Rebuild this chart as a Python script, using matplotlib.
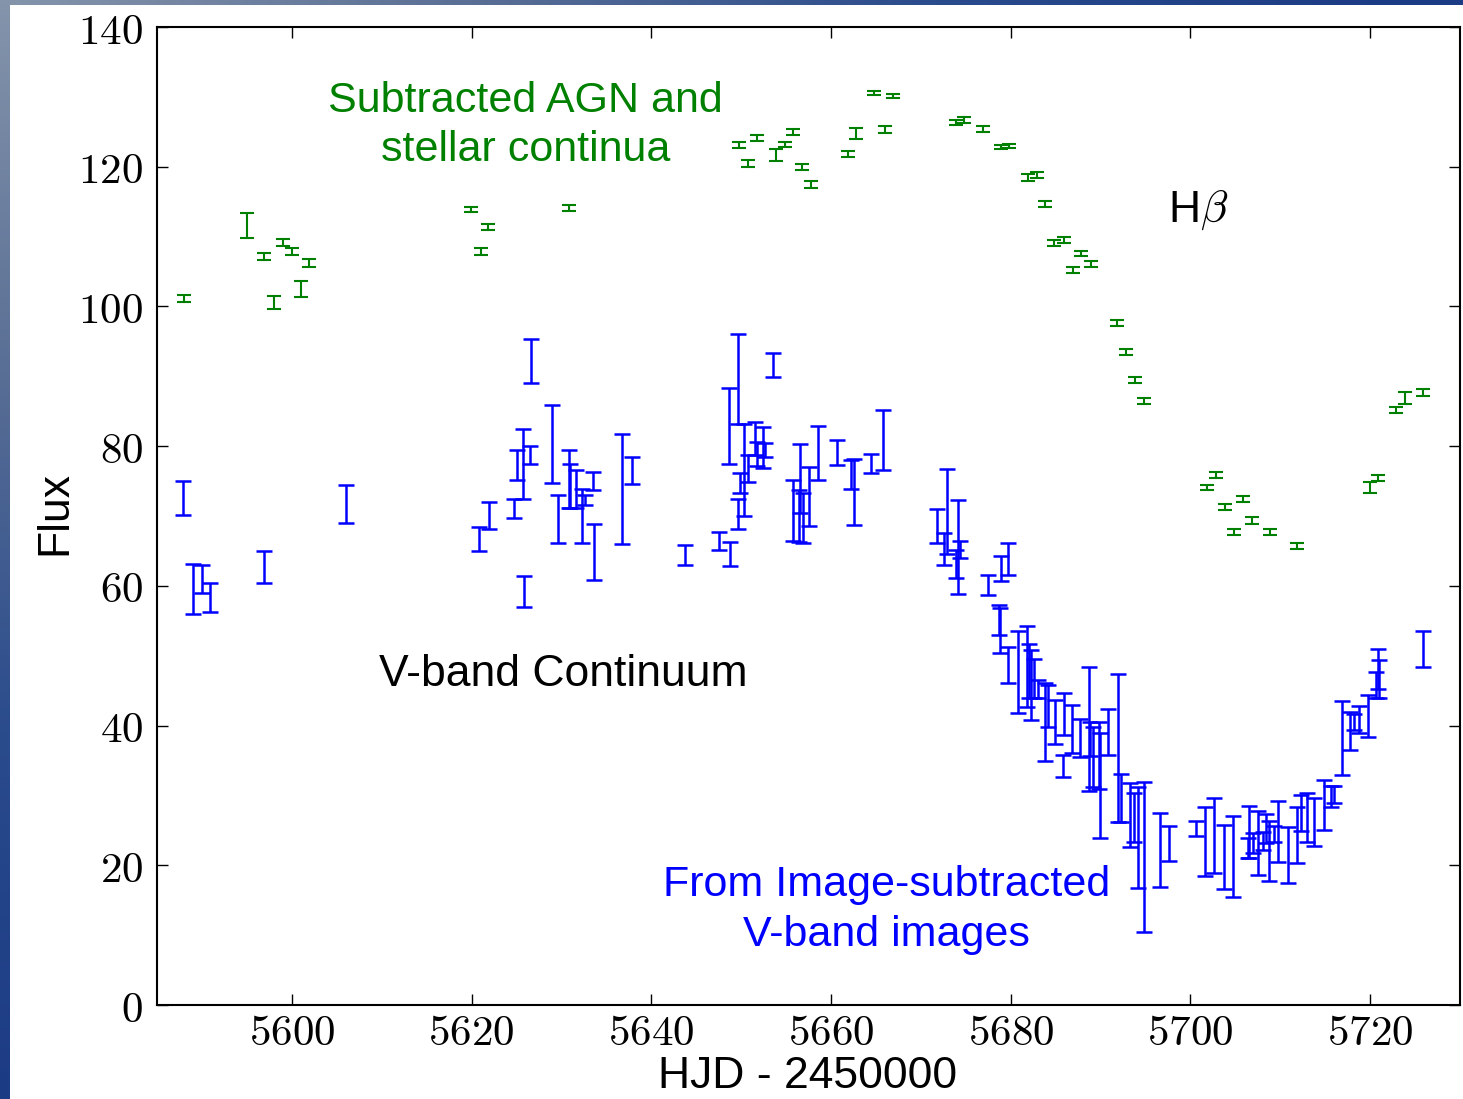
import numpy as np
import matplotlib
matplotlib.use("Agg")
import matplotlib.pyplot as plt
from matplotlib.colors import LinearSegmentedColormap
from matplotlib.patches import Rectangle
from matplotlib.ticker import FuncFormatter

# H-beta light curve (green)
hb_x = [5588.0, 5595.0, 5596.9, 5598.0, 5599.0, 5600.0, 5601.0, 5601.9,
        5619.9, 5621.0, 5621.8, 5630.8,
        5649.8, 5650.8, 5651.8, 5653.9, 5654.9, 5655.8, 5656.8, 5657.8,
        5661.9, 5662.8, 5664.8, 5666.0, 5666.9,
        5673.9, 5674.8, 5676.9, 5678.9, 5679.8, 5681.9, 5682.9, 5683.8,
        5684.8, 5685.9, 5686.9, 5687.8, 5688.9,
        5691.8, 5692.8, 5693.8, 5694.8,
        5701.9, 5702.9, 5703.8, 5704.8, 5705.8, 5706.9, 5708.9, 5711.9,
        5720.0, 5720.9, 5722.9, 5723.9, 5725.9]
hb_y = [101.1, 111.6, 107.2, 100.6, 109.1, 107.8, 102.5, 106.2,
        113.9, 107.8, 111.4, 114.1,
        123.1, 120.5, 124.1, 121.7, 123.2, 125.0, 120.0, 117.5,
        121.8, 124.8, 130.5, 125.3, 130.1,
        126.3, 126.7, 125.4, 122.8, 123.0, 118.5, 118.8, 114.7,
        109.1, 109.5, 105.2, 107.6, 106.1,
        97.6, 93.5, 89.5, 86.5,
        74.1, 75.9, 71.3, 67.7, 72.4, 69.3, 67.7, 65.7,
        74.1, 75.4, 85.2, 86.9, 87.7]
hb_err = [0.5, 1.8, 0.5, 0.9, 0.5, 0.5, 1.1, 0.6,
          0.4, 0.5, 0.4, 0.4,
          0.4, 0.5, 0.4, 0.85, 0.4, 0.4, 0.4, 0.5,
          0.4, 0.8, 0.3, 0.5, 0.3,
          0.4, 0.4, 0.4, 0.3, 0.3, 0.5, 0.4, 0.4,
          0.4, 0.4, 0.4, 0.4, 0.4,
          0.4, 0.4, 0.4, 0.4,
          0.4, 0.4, 0.4, 0.4, 0.4, 0.5, 0.4, 0.4,
          0.8, 0.4, 0.4, 0.8, 0.5]

# V-band continuum (blue)
v_x = [5587.9, 5589.0, 5590.0, 5590.9, 5596.9, 5606.0,
       5620.8, 5621.9, 5624.7, 5625.1, 5625.7, 5625.8, 5626.5, 5626.6,
       5629.0, 5629.6, 5630.8, 5631.0, 5631.6, 5632.3, 5632.6, 5633.5,
       5633.6, 5636.7, 5637.9, 5643.8, 5647.5, 5648.6, 5648.8, 5649.6,
       5649.7, 5649.9, 5650.3, 5650.8, 5651.6, 5651.8, 5652.4, 5652.7,
       5653.6, 5655.8, 5656.4, 5656.6, 5656.9, 5657.6, 5658.6, 5660.7,
       5662.2, 5662.6, 5664.5, 5665.8, 5671.8, 5672.6, 5672.9, 5673.9,
       5674.1, 5674.4, 5677.5, 5678.7, 5678.8, 5678.9, 5679.7, 5679.7,
       5680.8, 5681.8, 5682.0, 5682.3, 5682.6, 5683.0, 5683.8, 5684.1,
       5684.9, 5685.8, 5685.9, 5686.8, 5687.7, 5688.7, 5688.8, 5689.2,
       5689.8, 5689.9, 5690.8, 5691.9, 5692.3, 5693.3, 5693.7, 5694.2,
       5694.8, 5696.6, 5697.6, 5700.6, 5701.6, 5702.6, 5703.7, 5704.7,
       5706.4, 5706.5, 5707.0, 5707.5, 5708.1, 5708.4, 5708.7, 5709.3,
       5709.7, 5710.9, 5711.9, 5712.3, 5713.0, 5713.8, 5714.9, 5715.7,
       5716.0, 5716.9, 5717.8, 5718.2, 5718.8, 5719.8, 5720.6, 5720.9,
       5721.0, 5725.9]
v_y = [72.6, 59.5, 61.0, 58.3, 62.7, 71.7,
       66.7, 70.1, 71.1, 77.3, 77.4, 59.2, 78.7, 92.2,
       80.3, 69.6, 75.3, 74.3, 73.9, 70.0, 72.3, 75.0,
       64.8, 73.9, 76.5, 64.4, 66.4, 82.9, 64.6, 70.3,
       89.6, 74.7, 76.6, 76.8, 81.1, 78.9, 79.8, 79.4,
       91.6, 70.8, 70.0, 75.4, 69.7, 72.8, 79.0, 79.1,
       75.9, 73.4, 77.5, 80.9, 68.6, 65.3, 70.6, 63.1,
       65.6, 65.2, 60.1, 55.1, 53.6, 62.5, 63.8, 48.7,
       47.7, 48.4, 47.8, 45.8, 46.8, 45.2, 40.5, 42.8,
       40.5, 34.2, 41.7, 39.5, 38.2, 39.5, 38.1, 35.5,
       35.7, 31.4, 39.1, 36.8, 29.6, 27.2, 26.8, 24.0,
       21.2, 22.2, 23.1, 25.3, 23.4, 24.3, 21.2, 21.3,
       22.5, 24.8, 23.2, 23.2, 23.5, 25.3, 22.0, 24.5,
       24.8, 21.5, 24.3, 27.5, 26.8, 26.2, 28.6, 29.8,
       30.1, 38.2, 39.2, 40.5, 40.9, 41.4, 45.8, 48.1,
       46.7, 51.0]
v_err = [2.4, 3.6, 2.0, 2.1, 2.3, 2.7,
         1.7, 1.9, 1.4, 2.2, 5.0, 2.2, 1.3, 3.1,
         5.6, 3.4, 4.2, 3.2, 2.7, 3.9, 0.7, 1.3,
         4.0, 7.9, 1.9, 1.4, 1.3, 5.4, 1.7, 2.1,
         6.4, 1.4, 6.6, 1.9, 2.4, 1.7, 2.9, 1.0,
         1.7, 4.4, 3.7, 4.9, 3.6, 4.2, 3.9, 1.8,
         2.1, 4.7, 1.4, 4.3, 2.4, 2.3, 6.1, 2.0,
         6.7, 1.2, 1.4, 2.2, 3.2, 1.8, 2.3, 2.6,
         5.9, 5.8, 3.9, 5.0, 2.8, 1.3, 5.6, 3.0,
         3.1, 1.6, 3.0, 3.4, 2.7, 8.9, 2.4, 4.3,
         4.8, 7.5, 3.3, 10.6, 3.4, 4.6, 3.5, 7.2,
         10.7, 5.3, 2.5, 1.1, 4.9, 5.4, 4.6, 5.8,
         1.4, 3.7, 1.4, 4.6, 1.3, 2.1, 4.3, 1.1,
         4.4, 4.0, 4.0, 2.6, 3.5, 3.4, 3.6, 1.5,
         1.2, 5.3, 2.7, 1.2, 1.9, 3.0, 1.9, 2.9,
         2.7, 2.6]

x_ticks = [5600, 5620, 5640, 5660, 5680, 5700, 5720]
y_ticks = [0, 20, 40, 60, 80, 100, 120, 140]

plt.rcParams['mathtext.fontset'] = 'cm'
sans = 'Liberation Sans'

W, H = 1463, 1099
fig = plt.figure(figsize=(W / 100, H / 100), dpi=100)

# slide background: grey-blue gradient, white page on top
bg = fig.add_axes([0, 0, 1, 1], zorder=-10)
gx, gy = np.meshgrid(np.linspace(0, 1, 300), np.linspace(0, 1, 240))
t = np.clip(np.sqrt((gx * W / 1400) ** 2 + (gy * H / 1100) ** 2), 0, 1)
cmap = LinearSegmentedColormap.from_list('slide', ['#8494ab', '#5a6f95', '#2a4b8c', '#1c3b85'])
bg.imshow(t, cmap=cmap, extent=[0, W, H, 0], aspect='auto')
bg.add_patch(Rectangle((10, 5), W, H, facecolor='white', edgecolor='none'))
bg.set_xlim(0, W)
bg.set_ylim(H, 0)
bg.axis('off')

ax = fig.add_axes([157 / W, 94 / H, 1303 / W, 978 / H])
ax.errorbar(hb_x, hb_y, yerr=hb_err, fmt='none', ecolor='green',
            elinewidth=1.5, capsize=5, capthick=1.5)
ax.errorbar(v_x, v_y, yerr=v_err, fmt='none', ecolor='blue',
            elinewidth=1.8, capsize=5.5, capthick=1.8)

ax.set_xlim(5585, 5730)
ax.set_ylim(0, 140)
ax.set_xticks(x_ticks)
ax.set_yticks(y_ticks)
fmt = FuncFormatter(lambda v, p: r'$%d$' % v)
ax.xaxis.set_major_formatter(fmt)
ax.yaxis.set_major_formatter(fmt)
ax.tick_params(direction='in', top=True, right=True, length=8, width=1,
               labelsize=31)
ax.tick_params(axis='x', pad=5)
ax.tick_params(axis='y', pad=10)
for s in ax.spines.values():
    s.set_linewidth(1.5)

ax.text(5626.0, 132.3, 'Subtracted AGN and\nstellar continua', color='green',
        fontsize=31, family=sans, ha='center', va='top', linespacing=1.3)
ax.text(5630.2, 47.3, 'V-band Continuum', color='black',
        fontsize=32, family=sans, ha='center', va='center')
ax.text(5666.2, 13.6, 'From Image-subtracted\nV-band images', color='blue',
        fontsize=31, family=sans, ha='center', va='center', linespacing=1.3)
ax.text(5700.9, 113.8, r'H$\beta$', color='black',
        fontsize=32, family=sans, ha='center', va='center')

fig.text(808 / W, 1 - 1077 / H, 'HJD - 2450000', fontsize=32, family=sans,
         ha='center', va='center')
fig.text(55 / W, 1 - 513 / H, 'Flux', fontsize=32, family=sans,
         ha='center', va='center', rotation=90)

fig.savefig('out.png', dpi=100)
